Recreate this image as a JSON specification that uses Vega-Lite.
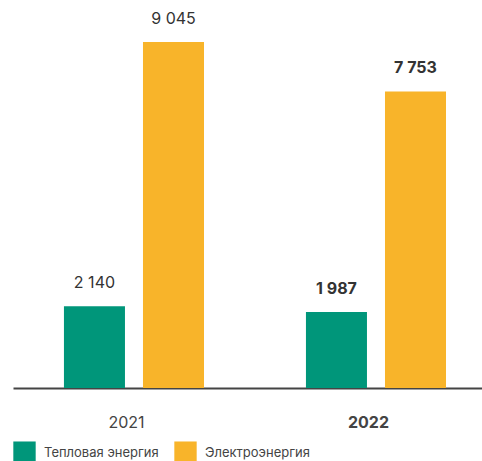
{
  "$schema": "https://vega.github.io/schema/vega-lite/v6.json",
  "autosize": "none",
  "width": 469,
  "height": 346,
  "padding": {"left": 13, "top": 42, "right": 0, "bottom": 73},
  "background": "white",
  "config": {
    "view": {"stroke": null},
    "font": "Inter"
  },
  "data": {
    "values": [
      {"year": "2021", "type": "Тепловая энергия", "value": 2140, "label": "2 140"},
      {"year": "2021", "type": "Электроэнергия", "value": 9045, "label": "9 045"},
      {"year": "2022", "type": "Тепловая энергия", "value": 1987, "label": "1 987"},
      {"year": "2022", "type": "Электроэнергия", "value": 7753, "label": "7 753"}
    ]
  },
  "encoding": {
    "x": {
      "field": "year",
      "type": "nominal",
      "scale": {"paddingInner": 0.062, "paddingOuter": 0},
      "axis": {
        "title": null,
        "ticks": false,
        "domainColor": "#444444",
        "domainWidth": 2,
        "labelAngle": 0,
        "labelFontSize": 16,
        "labelColor": "#444444",
        "labelPadding": 26,
        "labelFontWeight": {"condition": {"test": "datum.value == '2022'", "value": "bold"}, "value": "normal"}
      }
    },
    "xOffset": {
      "field": "type",
      "type": "nominal",
      "sort": ["Тепловая энергия", "Электроэнергия"],
      "scale": {"paddingInner": 0.228, "paddingOuter": 0.55, "align": 0.586}
    },
    "y": {
      "field": "value",
      "type": "quantitative",
      "scale": {"domain": [0, 9045], "nice": false, "zero": true},
      "axis": null
    }
  },
  "layer": [
    {
      "mark": {"type": "bar"},
      "encoding": {
        "color": {
          "field": "type",
          "type": "nominal",
          "sort": ["Тепловая энергия", "Электроэнергия"],
          "scale": {"domain": ["Тепловая энергия", "Электроэнергия"], "range": ["#00967A", "#F8B42A"]},
          "legend": {
            "title": null,
            "orient": "none",
            "direction": "horizontal",
            "legendX": 0,
            "legendY": 399,
            "padding": 0,
            "symbolType": "square",
            "symbolSize": 500,
            "symbolStrokeWidth": 0,
            "symbolOpacity": 1,
            "labelFontSize": 13,
            "labelColor": "#444444",
            "labelOffset": 8,
            "columnPadding": 15
          }
        }
      }
    },
    {
      "transform": [{"filter": "datum.year == '2021'"}],
      "mark": {"type": "text", "baseline": "alphabetic", "dy": -18, "fontSize": 16, "color": "#333333", "fontWeight": "normal"},
      "encoding": {"text": {"field": "label"}}
    },
    {
      "transform": [{"filter": "datum.year == '2022'"}],
      "mark": {"type": "text", "baseline": "alphabetic", "dy": -18, "fontSize": 16, "color": "#333333", "fontWeight": "bold"},
      "encoding": {"text": {"field": "label"}}
    }
  ]
}
